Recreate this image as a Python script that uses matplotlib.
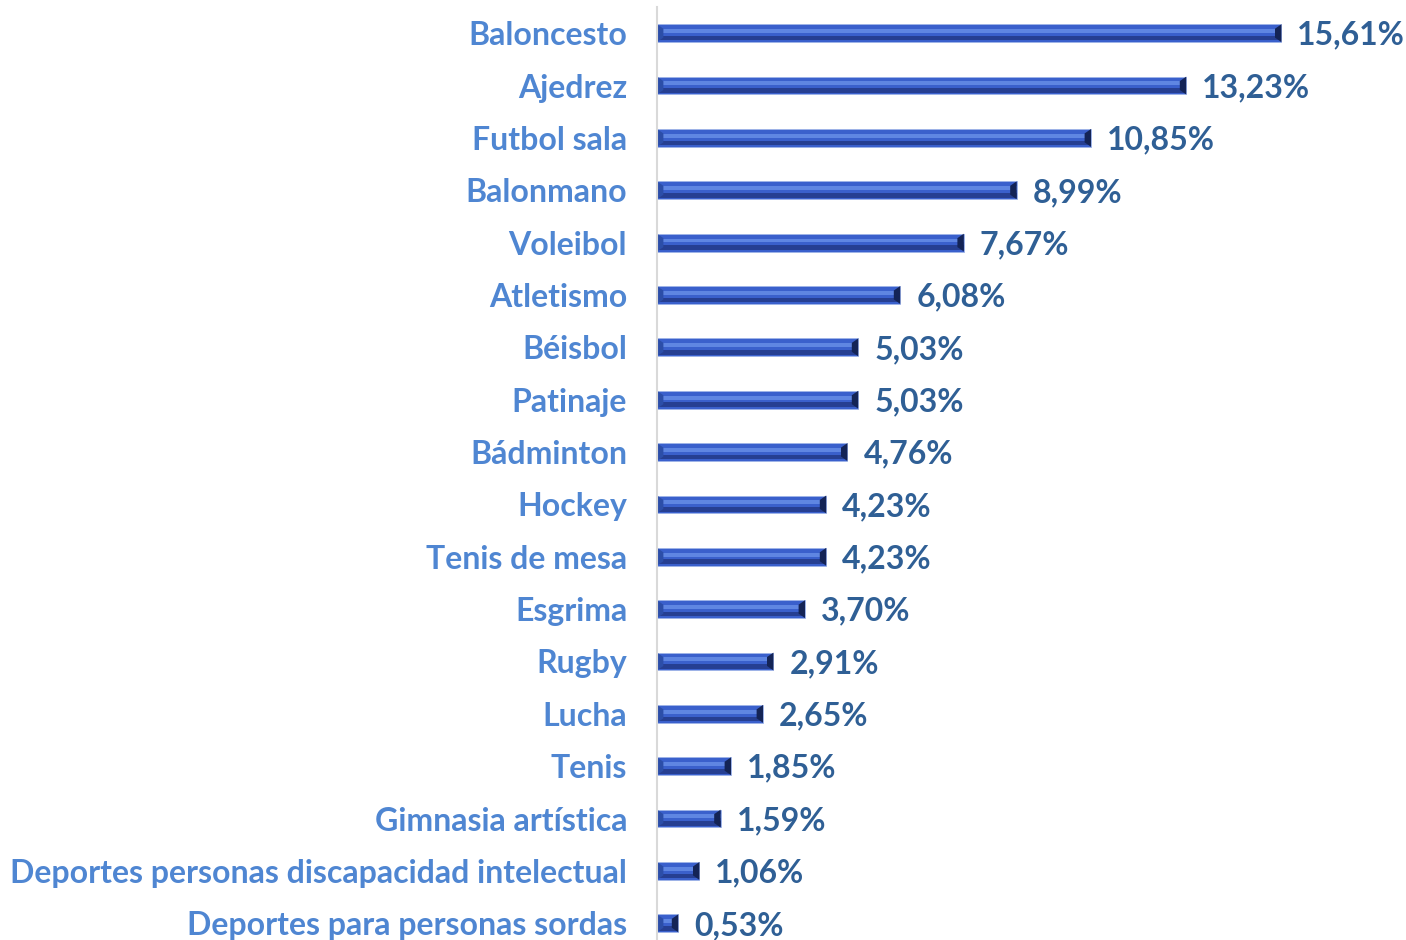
import matplotlib
matplotlib.use("Agg")
from matplotlib import pyplot as plt
from matplotlib.patches import Polygon

categories = ["Baloncesto", "Ajedrez", "Futbol sala", "Balonmano", "Voleibol",
              "Atletismo", "Béisbol", "Patinaje", "Bádminton", "Hockey",
              "Tenis de mesa", "Esgrima", "Rugby", "Lucha", "Tenis",
              "Gimnasia artística",
              "Deportes personas discapacidad intelectual",
              "Deportes para personas sordas"]
values = [15.61, 13.23, 10.85, 8.99, 7.67, 6.08, 5.03, 5.03, 4.76, 4.23,
          4.23, 3.70, 2.91, 2.65, 1.85, 1.59, 1.06, 0.53]
value_labels = ["15,61%", "13,23%", "10,85%", "8,99%", "7,67%", "6,08%",
                "5,03%", "5,03%", "4,76%", "4,23%", "4,23%", "3,70%",
                "2,91%", "2,65%", "1,85%", "1,59%", "1,06%", "0,53%"]

plt.rcParams['font.family'] = ['Lato', 'DejaVu Sans']

fig = plt.figure(figsize=(14.06, 9.4), dpi=100)
# axes placed in figure fraction: left edge at the vertical axis line
ax = fig.add_axes([657 / 1406, -10 / 940, 1 - 657 / 1406, 943 / 940])

n = len(categories)
ys = list(range(n))
h = 0.34
mid = "#3a60cc"
light = "#5f86e2"
dark = "#263f92"
navy = "#142456"

ax.barh(ys, values, height=h, color=mid, edgecolor="#9fb4e8", linewidth=0.6)
# bevel stripes
ax.barh([y - h * 0.12 for y in ys], values, height=h * 0.22, color=light, linewidth=0)
ax.barh([y + h * 0.28 for y in ys], values, height=h * 0.26, color=dark, linewidth=0)

d = 0.16
for y, v in zip(ys, values):
    dd = min(d, v / 2)
    ax.add_patch(Polygon([(v, y - h / 2), (v, y + h / 2), (v - dd, y + h / 4),
                          (v - dd, y - h / 4)], closed=True, color=navy, lw=0))
    ax.add_patch(Polygon([(0, y - h / 2), (0, y + h / 2), (dd, y + h / 4),
                          (dd, y - h / 4)], closed=True, color="#2c4ea8", lw=0))

for y, v, lab in zip(ys, values, value_labels):
    ax.text(v + 0.40, y + 0.04, lab, va="center", ha="left", fontsize=23,
            fontweight="bold", color="#2f5f95")

ax.set_xlim(0, 749 / 40)
ax.set_ylim(n - 1 + 0.5 + 0.01, -0.5 - 0.0)
ax.set_yticks(ys)
ax.set_yticklabels(categories, fontsize=23, fontweight="bold", color="#4f86d2")
ax.tick_params(axis="y", length=0, pad=21.5)
ax.set_xticks([])
for s in ["top", "right", "bottom"]:
    ax.spines[s].set_visible(False)
ax.spines["left"].set_color("#d9d9d9")
ax.spines["left"].set_linewidth(1.5)
ax.patch.set_alpha(0)

plt.savefig("out.png", dpi=100)
